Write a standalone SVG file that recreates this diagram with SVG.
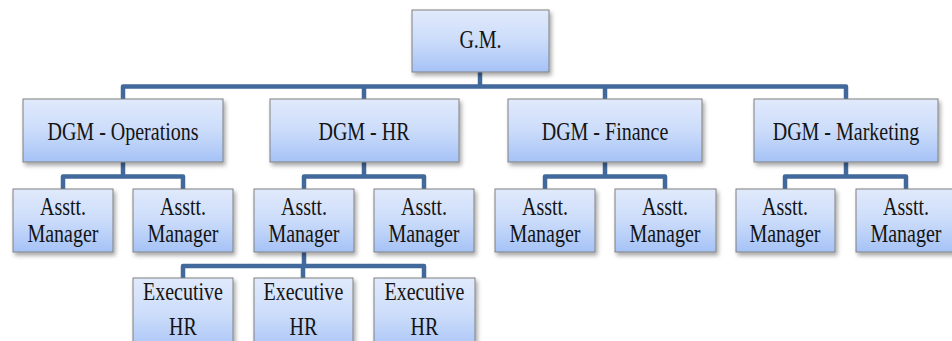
<svg xmlns="http://www.w3.org/2000/svg" width="952" height="341" viewBox="0 0 952 341">
  <defs>
    <linearGradient id="boxFill" x1="0" y1="0" x2="0" y2="1">
      <stop offset="0" stop-color="#e1eafc"/>
      <stop offset="0.5" stop-color="#cbdcfa"/>
      <stop offset="1" stop-color="#a5c2f6"/>
    </linearGradient>
    <filter id="shadow" x="-10%" y="-10%" width="130%" height="140%">
      <feDropShadow dx="2" dy="3" stdDeviation="2" flood-color="#000" flood-opacity="0.35"/>
    </filter>
  </defs>
  <style>
    .box { fill: url(#boxFill); stroke: #808080; stroke-width: 1; filter: url(#shadow); }
    .lbl { font-family: 'Liberation Serif', 'DejaVu Serif', serif; font-size: 20px; fill: #141414; text-anchor: middle; }
    .link { fill: none; stroke: #41699b; stroke-width: 4.5; stroke-linejoin: round; stroke-linecap: butt; }
  </style>

  <rect width="952" height="341" fill="#ffffff"/>

  <!-- connectors -->
  <g id="connectors">
    <path class="link" d="M480 72 V86.5"/>
    <path class="link" d="M123 99 V86.5 H846 V99 M364 86.5 V99 M605 86.5 V99"/>
    <path class="link" d="M123 162 V176.5 M63 189 V176.5 H183 V189"/>
    <path class="link" d="M364 162 V176.5 M304 189 V176.5 H424 V189"/>
    <path class="link" d="M605 162 V176.5 M545 189 V176.5 H665 V189"/>
    <path class="link" d="M846 162 V176.5 M785 189 V176.5 H906 V189"/>
    <path class="link" d="M304 252 V266 M183 278 V266 H424 V278 M303 266 V278"/>
  </g>

  <!-- top level -->
  <g id="gm">
    <rect class="box" x="412" y="10" width="137" height="62"/>
    <text class="lbl" font-family="Liberation Serif, serif" transform="translate(480.5 48) scale(1 1.28)">G.M.</text>
  </g>

  <!-- deputy general managers -->
  <g id="dgm-operations">
    <rect class="box" x="23" y="99" width="200" height="63"/>
    <text class="lbl" transform="translate(123 140) scale(1 1.28)">DGM - Operations</text>
  </g>
  <g id="dgm-hr">
    <rect class="box" x="270" y="99" width="189" height="63"/>
    <text class="lbl" transform="translate(364 140) scale(1 1.28)">DGM - HR</text>
  </g>
  <g id="dgm-finance">
    <rect class="box" x="508" y="99" width="194" height="63"/>
    <text class="lbl" transform="translate(605 140) scale(1 1.28)">DGM - Finance</text>
  </g>
  <g id="dgm-marketing">
    <rect class="box" x="754" y="99" width="184" height="63"/>
    <text class="lbl" transform="translate(846 140) scale(1 1.28)">DGM - Marketing</text>
  </g>

  <!-- assistant managers -->
  <g id="am-ops-1">
    <rect class="box" x="13" y="189" width="100" height="63"/>
    <text class="lbl" transform="translate(63 215) scale(1 1.28)">Asstt.</text>
    <text class="lbl" transform="translate(63 242) scale(1 1.28)">Manager</text>
  </g>
  <g id="am-ops-2">
    <rect class="box" x="133" y="189" width="100" height="63"/>
    <text class="lbl" transform="translate(183 215) scale(1 1.28)">Asstt.</text>
    <text class="lbl" transform="translate(183 242) scale(1 1.28)">Manager</text>
  </g>
  <g id="am-hr-1">
    <rect class="box" x="254" y="189" width="100" height="63"/>
    <text class="lbl" transform="translate(304 215) scale(1 1.28)">Asstt.</text>
    <text class="lbl" transform="translate(304 242) scale(1 1.28)">Manager</text>
  </g>
  <g id="am-hr-2">
    <rect class="box" x="374" y="189" width="100" height="63"/>
    <text class="lbl" transform="translate(424 215) scale(1 1.28)">Asstt.</text>
    <text class="lbl" transform="translate(424 242) scale(1 1.28)">Manager</text>
  </g>
  <g id="am-fin-1">
    <rect class="box" x="495" y="189" width="100" height="63"/>
    <text class="lbl" transform="translate(545 215) scale(1 1.28)">Asstt.</text>
    <text class="lbl" transform="translate(545 242) scale(1 1.28)">Manager</text>
  </g>
  <g id="am-fin-2">
    <rect class="box" x="615" y="189" width="101" height="63"/>
    <text class="lbl" transform="translate(665 215) scale(1 1.28)">Asstt.</text>
    <text class="lbl" transform="translate(665 242) scale(1 1.28)">Manager</text>
  </g>
  <g id="am-mkt-1">
    <rect class="box" x="736" y="189" width="99" height="63"/>
    <text class="lbl" transform="translate(785 215) scale(1 1.28)">Asstt.</text>
    <text class="lbl" transform="translate(785 242) scale(1 1.28)">Manager</text>
  </g>
  <g id="am-mkt-2">
    <rect class="box" x="856" y="189" width="100" height="63"/>
    <text class="lbl" transform="translate(906 215) scale(1 1.28)">Asstt.</text>
    <text class="lbl" transform="translate(906 242) scale(1 1.28)">Manager</text>
  </g>

  <!-- HR executives -->
  <g id="exec-hr-1">
    <rect class="box" x="133" y="278" width="100" height="75"/>
    <text class="lbl" transform="translate(183 300) scale(1 1.28)">Executive</text>
    <text class="lbl" transform="translate(183 335) scale(1 1.28)">HR</text>
  </g>
  <g id="exec-hr-2">
    <rect class="box" x="254" y="278" width="99" height="75"/>
    <text class="lbl" transform="translate(303.5 300) scale(1 1.28)">Executive</text>
    <text class="lbl" transform="translate(303.5 335) scale(1 1.28)">HR</text>
  </g>
  <g id="exec-hr-3">
    <rect class="box" x="374" y="278" width="101" height="75"/>
    <text class="lbl" transform="translate(424.5 300) scale(1 1.28)">Executive</text>
    <text class="lbl" transform="translate(424.5 335) scale(1 1.28)">HR</text>
  </g>
</svg>
